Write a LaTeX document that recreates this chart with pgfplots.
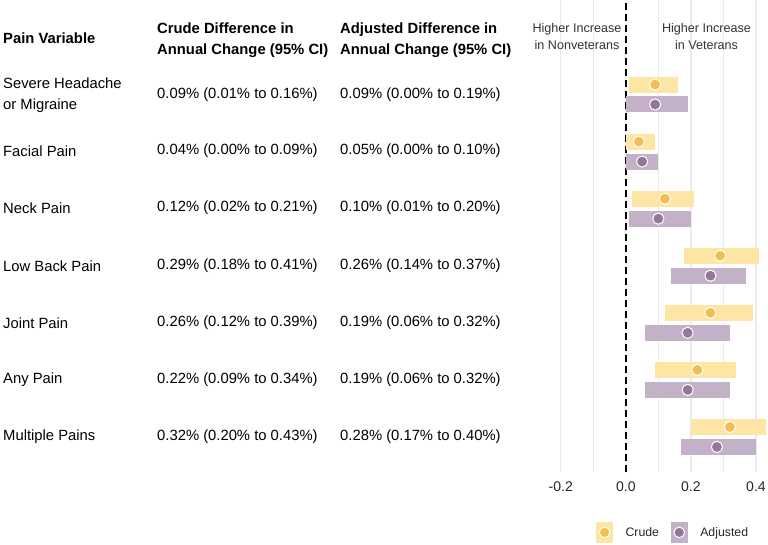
\documentclass[border=0pt]{standalone}
\usepackage{pgfplots}
\usepackage{pgfplotstable}
\pgfplotsset{compat=1.18}
\usepackage{fontspec}
\setmainfont{Liberation Sans}
\definecolor{crudebar}{HTML}{FDE5A3}
\definecolor{crudept}{HTML}{F3BE50}
\definecolor{adjbar}{HTML}{C3B2C7}
\definecolor{adjpt}{HTML}{96769B}
\definecolor{gridc}{HTML}{EBEBEB}
\pgfplotstableread{
row est lo hi
1 0.09 0.01 0.16
2 0.04 0.00 0.09
3 0.12 0.02 0.21
4 0.29 0.18 0.41
5 0.26 0.12 0.39
6 0.22 0.09 0.34
7 0.32 0.20 0.43
}\crude
\pgfplotstableread{
row est lo hi
1 0.09 0.00 0.19
2 0.05 0.00 0.10
3 0.10 0.01 0.20
4 0.26 0.14 0.37
5 0.19 0.06 0.32
6 0.19 0.06 0.32
7 0.28 0.17 0.40
}\adjusted
\newcommand{\tfont}{\fontsize{14.8}{21}\selectfont}
\begin{document}
\begin{tikzpicture}
\path[use as bounding box] (0pt,0pt) rectangle (768pt,544pt);
% table headers
\node[anchor=west, inner sep=0pt, font=\tfont\bfseries] at (3pt,506pt) {Pain Variable};
\node[anchor=west, inner sep=0pt, align=left, font=\tfont\bfseries] at (157pt,504pt) {Crude Difference in\\Annual Change (95\% CI)};
\node[anchor=west, inner sep=0pt, align=left, font=\tfont\bfseries] at (340pt,504pt) {Adjusted Difference in\\Annual Change (95\% CI)};
% row labels
\node[anchor=west, inner sep=0pt, align=left, font=\tfont] at (3pt,448.5pt) {Severe Headache\\or Migraine};
\node[anchor=west, inner sep=0pt, font=\tfont] at (3pt,393pt) {Facial Pain};
\node[anchor=west, inner sep=0pt, font=\tfont] at (3pt,336pt) {Neck Pain};
\node[anchor=west, inner sep=0pt, font=\tfont] at (3pt,278pt) {Low Back Pain};
\node[anchor=west, inner sep=0pt, font=\tfont] at (3pt,221pt) {Joint Pain};
\node[anchor=west, inner sep=0pt, font=\tfont] at (3pt,164pt) {Any Pain};
\node[anchor=west, inner sep=0pt, font=\tfont] at (3pt,107pt) {Multiple Pains};
% crude values
\node[anchor=west, inner sep=0pt, font=\tfont] at (157pt,449.5pt) {0.09\% (0.01\% to 0.16\%)};
\node[anchor=west, inner sep=0pt, font=\tfont] at (157pt,393pt) {0.04\% (0.00\% to 0.09\%)};
\node[anchor=west, inner sep=0pt, font=\tfont] at (157pt,336pt) {0.12\% (0.02\% to 0.21\%)};
\node[anchor=west, inner sep=0pt, font=\tfont] at (157pt,278pt) {0.29\% (0.18\% to 0.41\%)};
\node[anchor=west, inner sep=0pt, font=\tfont] at (157pt,221pt) {0.26\% (0.12\% to 0.39\%)};
\node[anchor=west, inner sep=0pt, font=\tfont] at (157pt,164pt) {0.22\% (0.09\% to 0.34\%)};
\node[anchor=west, inner sep=0pt, font=\tfont] at (157pt,107pt) {0.32\% (0.20\% to 0.43\%)};
% adjusted values
\node[anchor=west, inner sep=0pt, font=\tfont] at (340pt,449.5pt) {0.09\% (0.00\% to 0.19\%)};
\node[anchor=west, inner sep=0pt, font=\tfont] at (340pt,393pt) {0.05\% (0.00\% to 0.10\%)};
\node[anchor=west, inner sep=0pt, font=\tfont] at (340pt,336pt) {0.10\% (0.01\% to 0.20\%)};
\node[anchor=west, inner sep=0pt, font=\tfont] at (340pt,278pt) {0.26\% (0.14\% to 0.37\%)};
\node[anchor=west, inner sep=0pt, font=\tfont] at (340pt,221pt) {0.19\% (0.06\% to 0.32\%)};
\node[anchor=west, inner sep=0pt, font=\tfont] at (340pt,164pt) {0.19\% (0.06\% to 0.32\%)};
\node[anchor=west, inner sep=0pt, font=\tfont] at (340pt,107pt) {0.28\% (0.17\% to 0.40\%)};
\begin{axis}[
  at={(525pt,72pt)}, anchor=south west,
  scale only axis, width=243pt, height=472pt,
  xmin=-0.31, xmax=0.437, ymin=-7.614, ymax=0.656,
  axis line style={draw=none},
  ytick=\empty,
  xtick={-0.2,0,0.2,0.4},
  xticklabels={-0.2,0.0,0.2,0.4},
  minor xtick={-0.1,0.1,0.3},
  xmajorgrids, xminorgrids,
  major grid style={draw=gridc, line width=1.2pt},
  minor grid style={draw=gridc, line width=1.2pt},
  major tick length=0pt, minor tick length=0pt,
  xticklabel pos=bottom,
  /pgf/number format/assume math mode=true,
  xticklabel style={font=\fontsize{14}{16}\selectfont, text=black!85, yshift=-6pt},
  legend style={at={(0.61,-0.128)}, anchor=center, draw=none, fill=none,
    font=\fontsize{12.3}{14}\selectfont, text=black!85,
    /tikz/every even column/.append style={column sep=10pt}},
  legend columns=2,
]
\addplot[draw=black, line width=1.7pt, dash pattern=on 7pt off 4pt, forget plot] coordinates {(0,-7.614) (0,0.656)};
\addplot[only marks, mark=none, forget plot,
  error bars/.cd, x dir=both, x explicit, error mark=none,
  error bar style={line width=16pt, draw=crudebar}]
  table[x=est, y expr=-\thisrow{row}+0.175,
        x error plus expr=\thisrow{hi}-\thisrow{est},
        x error minus expr=\thisrow{est}-\thisrow{lo}] {\crude};
\addplot[only marks, mark=none, forget plot,
  error bars/.cd, x dir=both, x explicit, error mark=none,
  error bar style={line width=16pt, draw=adjbar}]
  table[x=est, y expr=-\thisrow{row}-0.175,
        x error plus expr=\thisrow{hi}-\thisrow{est},
        x error minus expr=\thisrow{est}-\thisrow{lo}] {\adjusted};
\addplot[only marks, mark=*, mark size=5.6pt, mark options={fill=crudept, draw=white, line width=1pt},
  legend image code/.code={\fill[crudebar] (0pt,-10pt) rectangle (16pt,10pt);
    \draw[white, line width=1pt, fill=crudept] (8pt,0pt) circle (5.3pt);
    \node[inner sep=0pt, minimum size=0pt, draw=none, fill=none] at (27pt,0pt) {};}]
  table[x=est, y expr=-\thisrow{row}+0.175] {\crude};
\addlegendentry{Crude}
\addplot[only marks, mark=*, mark size=5.6pt, mark options={fill=adjpt, draw=white, line width=1pt},
  legend image code/.code={\fill[adjbar] (0pt,-10pt) rectangle (16pt,10pt);
    \draw[white, line width=1pt, fill=adjpt] (8pt,0pt) circle (5.3pt);
    \node[inner sep=0pt, minimum size=0pt, draw=none, fill=none] at (27pt,0pt) {};}]
  table[x=est, y expr=-\thisrow{row}-0.175] {\adjusted};
\addlegendentry{Adjusted}
\node[align=center, font=\fontsize{12.6}{17}\selectfont, text=black!80] at (rel axis cs:0.214,0.923) {Higher Increase\\in Nonveterans};
\node[align=center, font=\fontsize{12.6}{17}\selectfont, text=black!80] at (rel axis cs:0.747,0.923) {Higher Increase\\in Veterans};
\end{axis}
\end{tikzpicture}
\end{document}
